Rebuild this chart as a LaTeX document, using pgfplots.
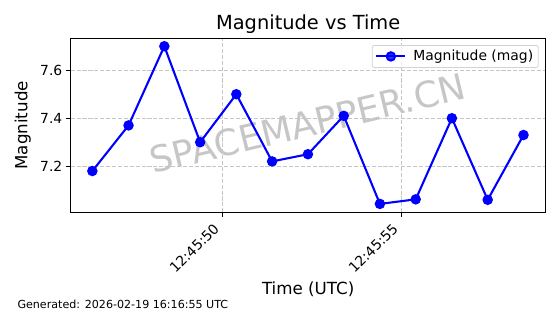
\documentclass[border=0pt]{standalone}
\usepackage{fontspec}
\setmainfont{DejaVu Sans}
\usepackage{pgfplots}
\pgfplotsset{compat=1.18}
\begin{document}
\begin{tikzpicture}[x=1pt,y=1pt]
\path[use as bounding box] (0,0) rectangle (560,314);
\node[rotate=13.5, text=gray!45, font=\fontsize{36}{40}\selectfont, inner sep=0pt] at (307.5,190.5) {SPACEMAPPER.CN};
\begin{axis}[
  at={(70.7pt,101.7pt)}, anchor=south west,
  scale only axis, width=475pt, height=174pt,
  xmin=45.765, xmax=59.03, ymin=7.008, ymax=7.733,
  xtick={50,55}, xticklabels={,},
  ytick={7.2,7.4,7.6},
  tick pos=left, tick align=outside,
  major tick length=4.9pt,
  every tick/.style={black, line width=1.1pt},
  axis line style={line width=1.1pt},
  grid=major,
  major grid style={gray!45, line width=0.8pt, dash pattern=on 4.1pt off 1.8pt},
  /pgf/number format/assume math mode=true,
  yticklabel style={/pgf/number format/.cd,fixed,precision=1,fixed zerofill},
  ticklabel style={font=\fontsize{13.9}{16}\selectfont},
  legend style={at={(0.985,0.9615)}, anchor=north east, draw=gray!35, rounded corners=2pt,
    fill=white, fill opacity=0.8, text opacity=1, font=\fontsize{13.9}{16}\selectfont,
    inner sep=3pt, line width=0.8pt},
  legend cell align=left,
  legend image code/.code={\draw[mark repeat=2, mark phase=2, #1] plot coordinates {(0pt,0pt) (14.5pt,0pt) (29pt,0pt)}; \path (34pt,0pt);},
]
\addplot[blue, line width=2.08pt, mark=*, mark size=4.15pt, mark options={solid, fill=blue}] coordinates {
(46.37,7.18) (47.38,7.37) (48.38,7.70) (49.38,7.30) (50.39,7.50) (51.39,7.22) (52.39,7.25)
(53.39,7.41) (54.40,7.043) (55.40,7.062) (56.41,7.40) (57.41,7.06) (58.41,7.33)};
\addlegendentry{Magnitude (mag)}
\end{axis}
\node[rotate=45, anchor=base east, inner sep=0pt, font=\fontsize{13.9}{16}\selectfont] at (220,84.4) {12:45:50};
\node[rotate=45, anchor=base east, inner sep=0pt, font=\fontsize{13.9}{16}\selectfont] at (399,84.4) {12:45:55};
\node[anchor=base, font=\fontsize{19.4}{22}\selectfont] at (308.2,284) {Magnitude vs Time};
\node[anchor=south, rotate=90, font=\fontsize{16.7}{19}\selectfont, inner sep=0pt] at (31,188.7) {Magnitude};
\node[anchor=base, font=\fontsize{16.7}{19}\selectfont] at (308.2,20) {Time (UTC)};
\node[anchor=base west, font=\fontsize{11.1}{13}\selectfont, inner sep=0pt] at (17.3,6) {Generated: 2026-02-19 16:16:55 UTC};
\end{tikzpicture}
\end{document}
